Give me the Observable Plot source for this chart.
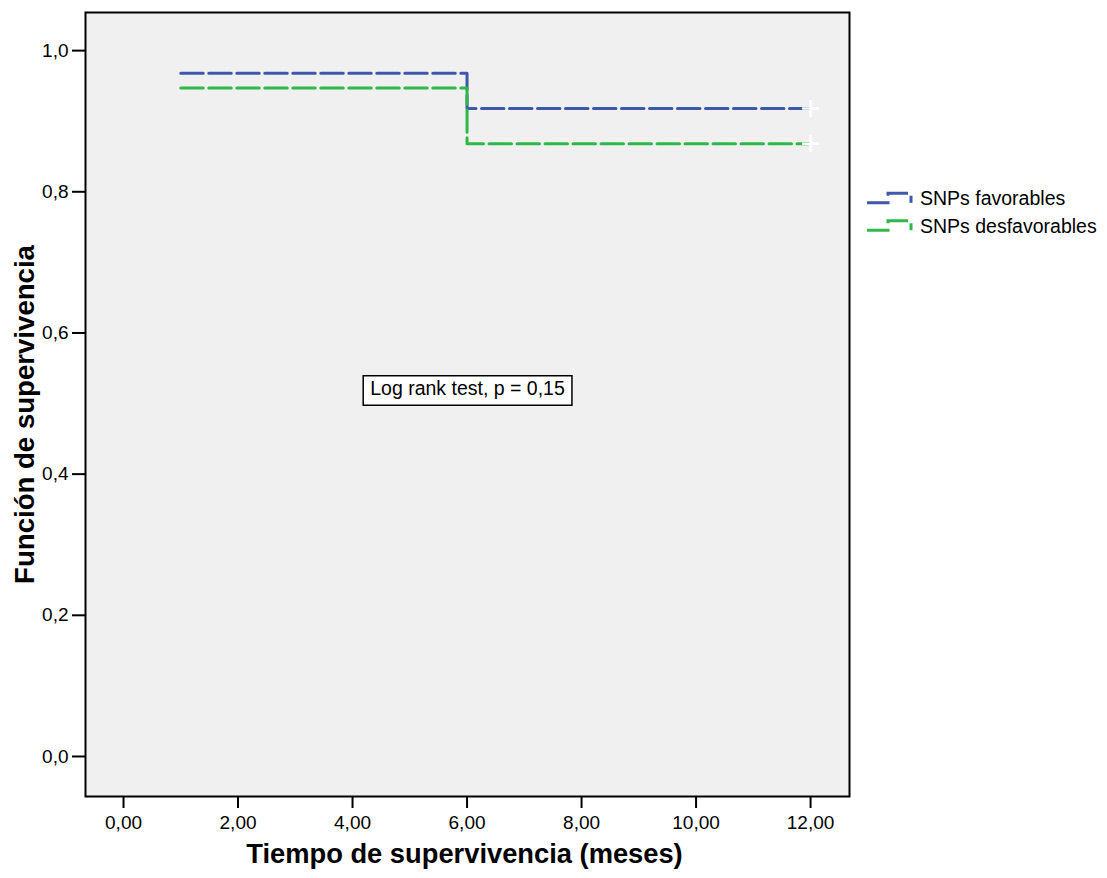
<!DOCTYPE html>
<html>
<head>
<meta charset="utf-8">
<script src="https://cdn.jsdelivr.net/npm/d3@7"></script>
<script src="https://cdn.jsdelivr.net/npm/@observablehq/plot@0.6"></script>
<style>
  html, body { margin: 0; padding: 0; background: #fff; }
  #wrap { position: relative; width: 1107px; height: 878px; font-family: "Liberation Sans", Arial, sans-serif; }
  #legend { position: absolute; left: 0; top: 0; pointer-events: none; }
</style>
</head>
<body>
<div id="wrap"></div>
<script>
// ---- data ----
const times = [1, 6, 12];
const favorables = [0.968, 0.918, 0.918];
const desfavorables = [0.947, 0.868, 0.868];
const seriesNames = ["SNPs favorables", "SNPs desfavorables"];
const seriesColors = ["#3E58AC", "#2EB848"];
const censorTime = 12;
const xTicks = [0, 2, 4, 6, 8, 10, 12];
const yTicks = [0, 0.2, 0.4, 0.6, 0.8, 1.0];
const xLabel = "Tiempo de supervivencia (meses)";
const yLabel = "Función de supervivencia";
const logRankLabel = "Log rank test, p = 0,15";

const seriesValues = [favorables, desfavorables];
const rows = seriesNames.flatMap((g, k) => times.map((t, i) => ({t, s: seriesValues[k][i], g})));
const censored = rows.filter(d => d.t === censorTime);

const W = 1107, H = 878;
const dash = "22.5,5.5";
const fmtX = d => d.toFixed(2).replace(".", ",");
const fmtY = d => d.toFixed(1).replace(".", ",");

const chart = Plot.plot({
  width: W,
  height: H,
  marginLeft: 85,
  marginRight: 258,
  marginTop: 12,
  marginBottom: 82,
  style: {fontFamily: '"Liberation Sans", Arial, sans-serif', fontSize: "19px", color: "#000", background: "transparent"},
  x: {domain: [-0.664, 12.68]},
  y: {domain: [-0.0567, 1.054]},
  color: {domain: seriesNames, range: seriesColors},
  marks: [
    Plot.frame({fill: "#f0f0f0", stroke: "none"}),
    Plot.axisX({ticks: xTicks, tickFormat: fmtX, tickSize: 12, tickPadding: 7, strokeWidth: 2, label: null}),
    Plot.axisY({ticks: yTicks, tickFormat: fmtY, tickSize: 13, tickPadding: 4, strokeWidth: 2, label: null}),
    Plot.line(rows, {x: "t", y: "s", z: "g", stroke: "g", curve: "step-after", strokeWidth: 3, strokeDasharray: dash}),
    Plot.dot(censored, {x: "t", y: "s", symbol: "plus", stroke: "white", strokeWidth: 2.5, r: 5.5}),
    Plot.text([logRankLabel], {frameAnchor: "middle", dy: -16, fontSize: 19.5, fill: "black"}),
    Plot.text([xLabel], {frameAnchor: "bottom", dx: -3, dy: 66, fontSize: 27.3, fontWeight: "bold", fill: "black"}),
    Plot.text([yLabel], {frameAnchor: "left", textAnchor: "middle", dx: -60, dy: 10, rotate: -90, fontSize: 27.6, fontWeight: "bold", fill: "black"}),
    Plot.frame({stroke: "black", strokeWidth: 2, fill: "none"})
  ]
});

const wrap = document.getElementById("wrap");
wrap.appendChild(chart);

// box around the log-rank annotation
const ns = "http://www.w3.org/2000/svg";
for (const t of chart.querySelectorAll("text")) {
  if (t.textContent === logRankLabel) {
    const bb = t.getBBox();
    const rect = document.createElementNS(ns, "rect");
    rect.setAttribute("x", bb.x - 7);
    rect.setAttribute("y", bb.y - 1);
    rect.setAttribute("width", bb.width + 14);
    rect.setAttribute("height", bb.height + 7.5);
    rect.setAttribute("fill", "white");
    rect.setAttribute("stroke", "black");
    rect.setAttribute("stroke-width", 1.5);
    const tr = t.getAttribute("transform");
    if (tr) rect.setAttribute("transform", tr);
    t.parentNode.insertBefore(rect, t);
    break;
  }
}

// legend overlay
const leg = d3.select(wrap).append("svg")
  .attr("id", "legend").attr("width", W).attr("height", H);
seriesNames.forEach((name, i) => {
  const by = 202.7 + i * 27.5;
  leg.append("path")
    .attr("d", `M867,${by} H888 V${by - 9.5} H911 V${by}`)
    .attr("fill", "none").attr("stroke", seriesColors[i])
    .attr("stroke-width", 3).attr("stroke-dasharray", dash);
  leg.append("text")
    .attr("x", 920).attr("y", by + 2.3)
    .attr("font-size", 19.5).attr("fill", "black")
    .attr("font-family", '"Liberation Sans", Arial, sans-serif')
    .text(name);
});
</script>
</body>
</html>
